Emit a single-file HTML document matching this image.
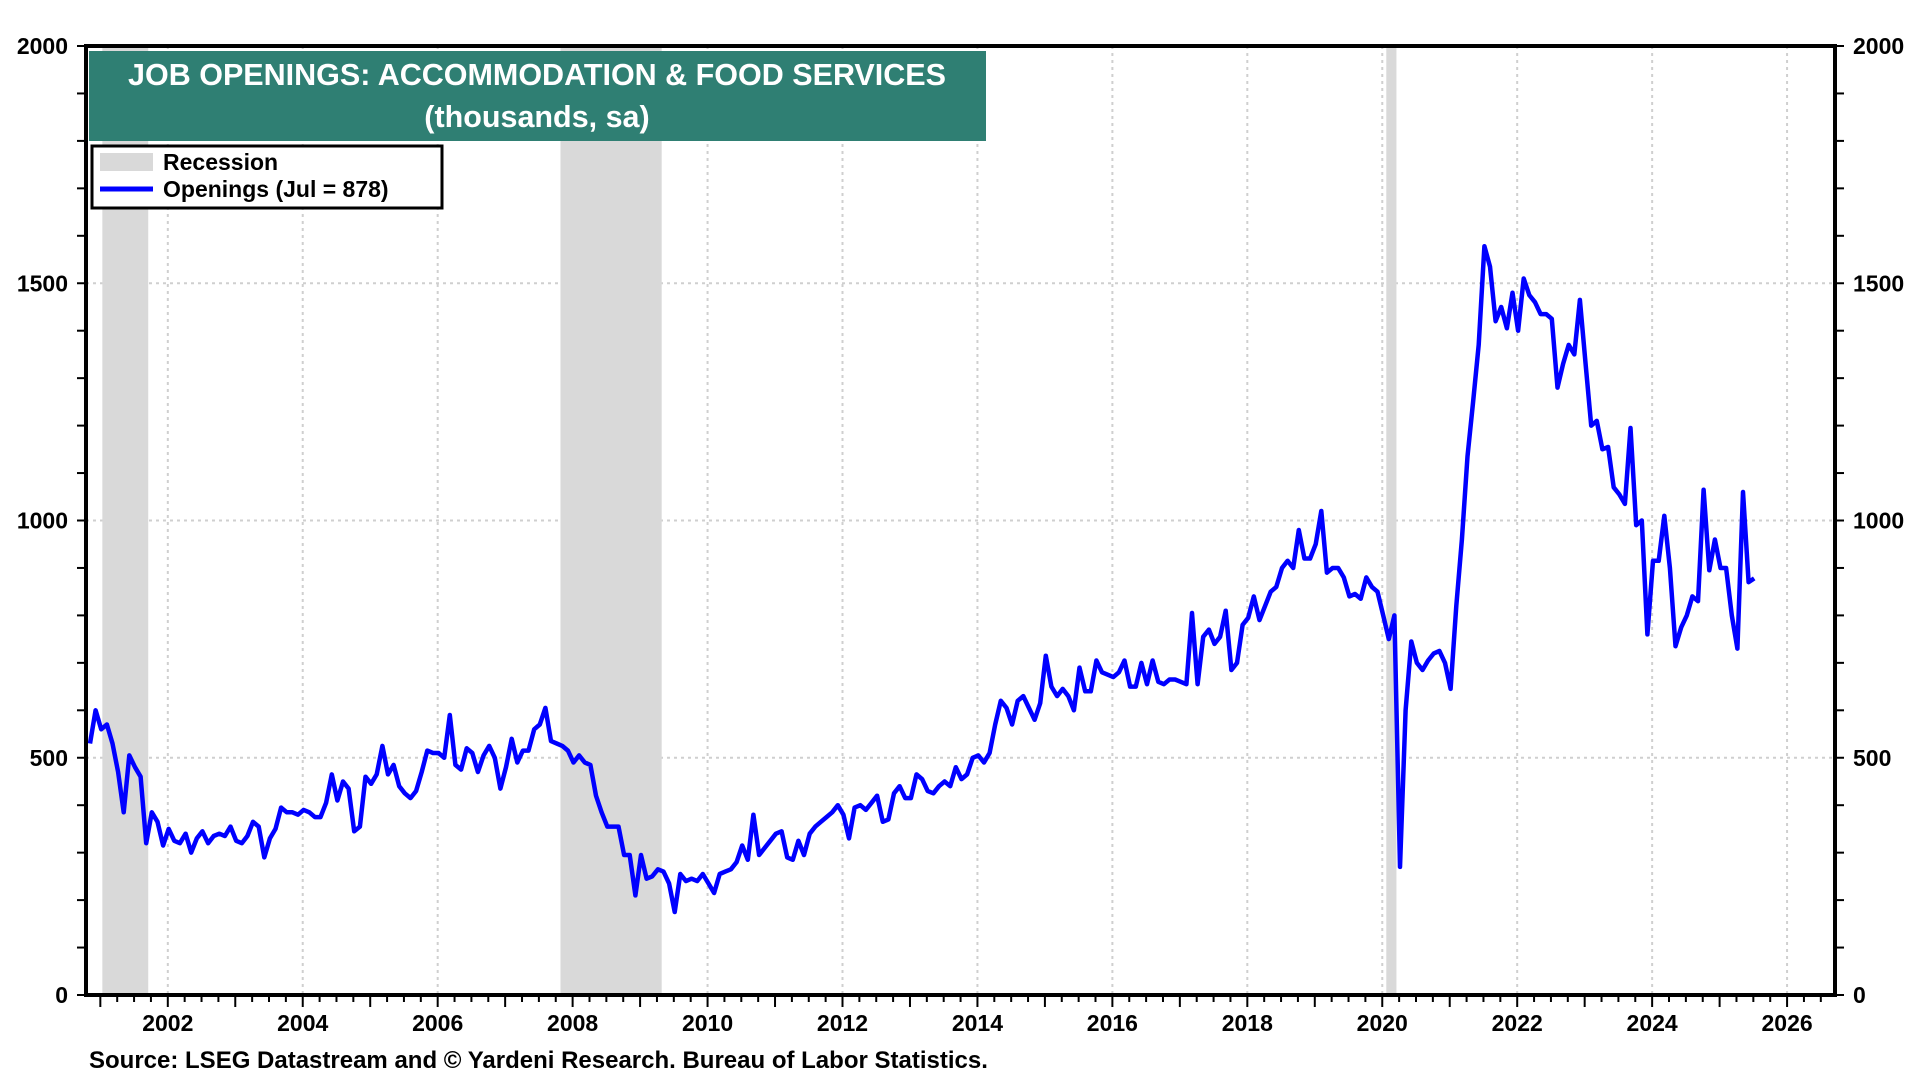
<!DOCTYPE html>
<html><head><meta charset="utf-8"><style>
html,body{margin:0;padding:0;background:#fff;}
svg{display:block;font-family:"Liberation Sans",Arial,sans-serif;}
</style></head><body>
<svg id="chart" width="1920" height="1080" viewBox="0 0 1920 1080" xmlns="http://www.w3.org/2000/svg">
<rect width="1920" height="1080" fill="#fff"/>
<g id="grid"></g><g id="rec"></g><g id="series"></g><g id="axes"></g>
<rect x="89" y="51" width="897" height="90" fill="#2f7f73"/>
<text x="537" y="85" text-anchor="middle" font-size="30.5" font-weight="bold" fill="#fff">JOB OPENINGS: ACCOMMODATION &amp; FOOD SERVICES</text>
<text x="537" y="127" text-anchor="middle" font-size="30.5" font-weight="bold" fill="#fff">(thousands, sa)</text>
<g>
<rect x="92" y="146" width="350" height="62" fill="#fff" stroke="#000" stroke-width="3"/>
<rect x="100" y="153" width="53" height="18" fill="#d9d9d9"/>
<text x="163" y="170" font-size="23" font-weight="bold">Recession</text>
<line x1="100" y1="189" x2="153" y2="189" stroke="#0000ff" stroke-width="5"/>
<text x="163" y="197" font-size="23" font-weight="bold">Openings (Jul = 878)</text>
</g>
<text x="89" y="1068" font-size="24" font-weight="bold">Source: LSEG Datastream and © Yardeni Research. Bureau of Labor Statistics.</text>
</svg>
<script>
const startYear = 2000, startMonth = 12;
const openings = [
530,
600,560,570,530,470,385,505,480,460,320,385,365,
315,350,325,320,340,300,330,345,320,335,340,335,
355,325,320,335,365,355,290,330,350,395,385,385,
380,390,385,375,375,405,465,410,450,435,345,355,
460,445,465,525,465,485,440,425,415,430,470,515,
510,510,500,590,485,475,520,510,470,505,525,500,
435,480,540,490,515,515,560,570,605,535,530,525,
515,490,505,490,485,420,385,355,355,355,295,295,
210,295,245,250,265,260,235,175,255,240,245,240,
255,235,215,255,260,265,280,315,285,380,295,310,
325,340,345,290,285,325,295,340,355,365,375,385,
400,380,330,395,400,390,405,420,365,370,425,440,
415,415,465,455,430,425,440,450,440,480,455,465,
500,505,490,510,570,620,605,570,620,630,605,580,
615,715,650,630,645,630,600,690,640,640,705,680,
675,670,680,705,650,650,700,655,705,660,655,665,
665,660,655,805,655,755,770,740,755,810,685,700,
780,795,840,790,820,850,860,900,915,900,980,920,
920,950,1020,890,900,900,880,840,845,835,880,860,
850,800,750,800,270,600,745,700,685,705,720,725,
700,645,820,960,1135,1250,1370,1578,1535,1420,1450,1405,
1480,1400,1510,1475,1460,1435,1435,1425,1280,1330,1370,1350,
1465,1330,1200,1210,1150,1155,1070,1055,1035,1195,990,1000,
760,915,915,1010,900,735,775,800,840,830,1065,895,
960,900,900,800,730,1060,870,878];
const recessions = [[2001.17,2001.85],[2007.96,2009.46],[2020.2,2020.35]];
const yTicks = [0,500,1000,1500,2000];
const xYears = [2002,2004,2006,2008,2010,2012,2014,2016,2018,2020,2022,2024,2026];

const L=86,R=1835,T=46,B=995;
const xs = yr => 167.8 + (yr-2002)*67.47;
const ys = v => B - v*(B-T)/2000;
const NS="http://www.w3.org/2000/svg";
function mk(parent,tag,attrs){const e=document.createElementNS(NS,tag);for(const k in attrs)e.setAttribute(k,attrs[k]);document.getElementById(parent).appendChild(e);return e;}

yTicks.forEach(v=>{
 if(v>0&&v<2000){const g=mk('grid','line',{x1:L,x2:R,y1:ys(v),y2:ys(v),stroke:'#cfcfcf','stroke-width':2,'stroke-dasharray':'3,4'});
 
 }
});
xYears.forEach(yr=>{
 const g=mk('grid','line',{x1:xs(yr),x2:xs(yr),y1:T,y2:B,stroke:'#cfcfcf','stroke-width':2,'stroke-dasharray':'3,4'});
 
 
});
recessions.forEach(r=>{
 const e=mk('rec','rect',{x:xs(r[0]-0.14),y:T,width:xs(r[1])-xs(r[0]),height:B-T,fill:'#d9d9d9'});
 
 
});
let d='';
openings.forEach((v,i)=>{const yr=startYear+(startMonth-1+i)/12-0.07;d+=(i?'L':'M')+xs(yr).toFixed(1)+','+ys(v).toFixed(1);});
const p=mk('series','path',{d:d,fill:'none',stroke:'#0000ff','stroke-width':4.5,'stroke-linejoin':'round'});



const fr=mk('axes','rect',{x:L,y:T,width:R-L,height:B-T,fill:'none',stroke:'#000','stroke-width':4});


for(let v=0;v<=2000;v+=100){
 mk('axes','line',{x1:L-9,x2:L,y1:ys(v),y2:ys(v),stroke:'#000','stroke-width':2});
 mk('axes','line',{x1:R,x2:R+9,y1:ys(v),y2:ys(v),stroke:'#000','stroke-width':2});
}
yTicks.forEach(v=>{
 const t1=mk('axes','text',{x:L-18,y:ys(v)+8,'text-anchor':'end','font-size':23,'font-weight':'bold'});
 t1.textContent=v;
 
 
 const t2=mk('axes','text',{x:R+18,y:ys(v)+8,'text-anchor':'start','font-size':23,'font-weight':'bold'});
 t2.textContent=v;
 
 
});
for(let q=2001;q<=2026.75;q+=0.25){const x=xs(q);if(x>L&&x<R)mk('axes','line',{x1:x,x2:x,y1:B,y2:B+(Number.isInteger(q)?12:7),stroke:'#000','stroke-width':2});}
xYears.forEach(yr=>{
 const t=mk('axes','text',{x:xs(yr),y:B+36,'text-anchor':'middle','font-size':23,'font-weight':'bold'});
 t.textContent=yr;
 
 
});
</script>
</body></html>
